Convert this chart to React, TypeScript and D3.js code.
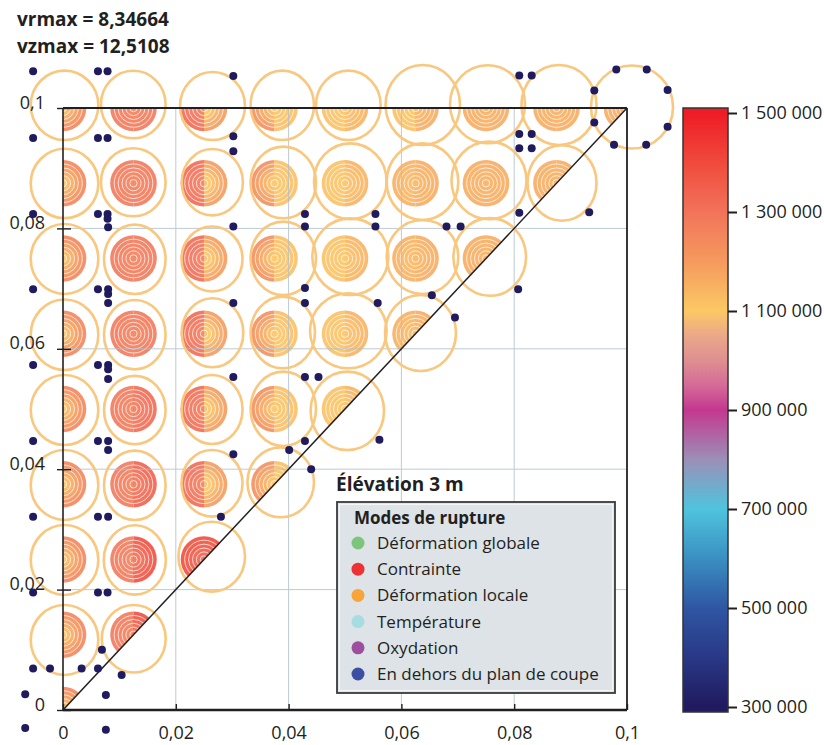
import React, { useEffect, useRef } from "react";
import * as d3 from "d3";

// grid nodes (same steps on both axes)
const nodeSteps = [0, 0.0125, 0.025, 0.0375, 0.05, 0.0625, 0.075, 0.0875, 0.1];

const axisTicks = [0, 0.02, 0.04, 0.06, 0.08, 0.1];
const axisTickLabels = ["0", "0,02", "0,04", "0,06", "0,08", "0,1"];
const gridTicks = [0.02, 0.04, 0.06, 0.08];

// colour bar
const colorStops = [300000, 400000, 500000, 600000, 700000, 800000, 900000, 950000, 1000000, 1050000, 1100000, 1200000, 1300000, 1400000, 1500000];
const colorHex = ["#201a5e", "#293886", "#2f56a3", "#3a8fc2", "#4fc4de", "#9b8fb7", "#c4388f", "#d56a98", "#de8f90", "#eba88a", "#fcc865", "#f59a5e", "#f2735a", "#f04a3c", "#ee1c25"];
const colorTicks = [300000, 500000, 700000, 900000, 1100000, 1300000, 1500000];

// disk values per column : left / right half, outer band / centre
const leftOuterByCol = [1250000, 1285000, 1320000, 1225000, 1115000, 1150000, 1160000, 1160000, 1160000];
const leftInnerByCol = [1110000, 1265000, 1270000, 1105000, 1105000, 1130000, 1150000, 1150000, 1160000];
const rightOuterByCol = [1250000, 1285000, 1195000, 1120000, 1145000, 1160000, 1160000, 1160000, 1160000];
const rightInnerByCol = [1110000, 1265000, 1080000, 1105000, 1115000, 1140000, 1150000, 1150000, 1160000];
// [col, row, side, outer, inner]
const diskOverrides: [number, number, "L" | "R", number, number][] = [
  [1, 4, "R", 1320000, 1280000],
  [1, 3, "R", 1345000, 1285000],
  [1, 2, "R", 1385000, 1300000],
  [1, 1, "R", 1390000, 1300000],
  [2, 2, "L", 1390000, 1330000],
  [2, 2, "R", 1390000, 1330000],
  [5, 8, "L", 1115000, 1105000],
];

// deformed outlines: cx, cy, rx, ry
const rings: [number, number, number, number][] = [
  [0.00027, 0.10045, 0.00599, 0.00576], [0.01246, 0.10058, 0.00573, 0.00561], [0.02651, 0.10033, 0.00576, 0.00565],
  [0.03888, 0.10045, 0.00562, 0.00576], [0.05059, 0.10045, 0.00573, 0.00576], [0.06379, 0.1005, 0.0066, 0.00664],
  [0.07527, 0.10063, 0.00665, 0.00648], [0.08794, 0.1005, 0.00665, 0.00664], [0.10089, 0.10017, 0.00727, 0.00689],
  [0.00027, 0.08746, 0.00599, 0.00576], [0.01246, 0.08766, 0.00573, 0.00565], [0.02647, 0.08767, 0.00543, 0.00551],
  [0.03906, 0.08763, 0.0058, 0.00595], [0.05094, 0.08782, 0.00644, 0.00631], [0.06374, 0.08776, 0.00635, 0.00636],
  [0.07553, 0.08796, 0.00665, 0.00645], [0.08848, 0.08754, 0.00612, 0.00628],
  [0.00027, 0.07492, 0.00599, 0.00581], [0.01273, 0.07487, 0.00546, 0.00576], [0.02642, 0.07492, 0.00541, 0.0054],
  [0.03906, 0.07503, 0.0058, 0.0061], [0.05094, 0.0753, 0.00674, 0.00636], [0.06374, 0.07525, 0.00635, 0.00615],
  [0.07566, 0.07525, 0.00644, 0.00645],
  [0.00027, 0.06234, 0.00599, 0.00586], [0.01273, 0.06234, 0.00546, 0.00576], [0.02651, 0.06267, 0.00546, 0.00573],
  [0.03897, 0.06271, 0.00571, 0.00595], [0.05059, 0.06299, 0.00679, 0.00623], [0.06339, 0.06262, 0.00629, 0.00631],
  [0.00027, 0.04983, 0.00599, 0.00581], [0.01273, 0.04983, 0.00546, 0.00568], [0.02642, 0.04992, 0.00541, 0.00573],
  [0.03906, 0.05003, 0.0058, 0.00618], [0.05041, 0.0497, 0.00651, 0.00651],
  [0.00027, 0.03738, 0.00599, 0.00581], [0.01273, 0.03733, 0.00546, 0.00576], [0.02642, 0.03766, 0.00541, 0.00553],
  [0.0386, 0.03782, 0.0059, 0.00581],
  [0.00027, 0.02492, 0.00599, 0.00581], [0.01273, 0.02492, 0.0055, 0.00576], [0.02637, 0.02547, 0.0059, 0.00581],
  [0.00027, 0.01163, 0.00599, 0.00581], [0.01254, 0.01183, 0.00567, 0.00561],
];

// points outside the cut plane
const outsidePoints: [number, number][] = [
  [-0.0053, 0.1061], [0.0062, 0.1061], [0.0079, 0.1061], [0.0302, 0.1053],
  [0.0809, 0.1054], [0.0831, 0.1054], [0.0981, 0.1064], [0.1035, 0.1064],
  [0.0942, 0.1029], [0.1072, 0.103],
  [-0.0053, 0.095], [0.0062, 0.095], [0.0079, 0.095], [0.0302, 0.0953],
  [0.0809, 0.0957], [0.0831, 0.0957], [0.0942, 0.0976], [0.1072, 0.0969],
  [0.0302, 0.0928], [0.0809, 0.0933], [0.0831, 0.0933], [0.0977, 0.0939], [0.1034, 0.0939],
  [-0.0053, 0.0824], [0.0062, 0.0824], [0.0079, 0.0824], [0.0079, 0.0816],
  [0.0429, 0.0824], [0.0554, 0.0824], [0.0809, 0.0826], [0.0933, 0.0827],
  [0.008, 0.0802], [0.0302, 0.0803], [0.0429, 0.0803], [0.0554, 0.0803], [0.068, 0.0803], [0.0705, 0.0803],
  [-0.0053, 0.0699], [0.0062, 0.0699], [0.008, 0.0699], [0.008, 0.0691], [0.008, 0.0676],
  [0.0302, 0.0676], [0.0429, 0.0701], [0.0429, 0.0676], [0.0558, 0.0676],
  [0.0807, 0.0699], [0.0654, 0.0689], [0.0695, 0.0652],
  [-0.0053, 0.0573], [0.0062, 0.0573], [0.008, 0.0573], [0.008, 0.0566], [0.008, 0.055],
  [0.0302, 0.0553], [0.0429, 0.0553], [0.0453, 0.0553],
  [-0.0053, 0.0447], [0.0062, 0.0447], [0.008, 0.0447], [0.008, 0.0432],
  [0.0302, 0.0425], [0.0401, 0.0432], [0.0429, 0.0447], [0.0561, 0.0449], [0.044, 0.04],
  [-0.0053, 0.0321], [0.0062, 0.0321], [0.008, 0.0321], [0.028, 0.0321],
  [-0.0053, 0.0195], [0.0062, 0.0195], [0.0079, 0.0195],
  [0.0069, 0.01], [-0.0053, 0.0069], [-0.0023, 0.0069], [0.0033, 0.0069], [0.0062, 0.0069], [0.0104, 0.0058],
  [-0.0067, 0.0026], [0.0076, 0.0025], [-0.0067, -0.003], [0.0076, -0.0033],
];

const legendLabels = ["Déformation globale", "Contrainte", "Déformation locale", "Température", "Oxydation", "En dehors du plan de coupe"];
const legendColors = ["#7cc57a", "#ee3134", "#f9a43b", "#a7dde0", "#9c4f9f", "#3b50a3"];

const FONT = "'Open Sans', sans-serif";
const INK = "#231f20";

const App = () => {
  const ref = useRef<SVGSVGElement>(null);

  useEffect(() => {
    const svg = d3.select(ref.current);
    svg.selectAll("*").remove();

    const x = d3.scaleLinear().domain([0, 0.1]).range([63, 627]);
    const y = d3.scaleLinear().domain([0, 0.1]).range([710, 108]);
    const cScale = d3.scaleLinear().domain([300000, 1500000]).range([707, 113]);
    const color = d3.scaleLinear<string>().domain(colorStops).range(colorHex).interpolate(d3.interpolateRgb).clamp(true);
    const fr = d3.formatLocale({ decimal: ",", thousands: " ", grouping: [3], currency: ["", " €"] });

    const defs = svg.append("defs");
    defs.append("clipPath").attr("id", "tri")
      .append("path")
      .attr("d", `M${x(0)},${y(0)}L${x(0)},${y(0.1)}L${x(0.1)},${y(0.1)}Z`);

    const grad = defs.append("linearGradient").attr("id", "cbar")
      .attr("gradientUnits", "userSpaceOnUse")
      .attr("x1", 0).attr("x2", 0)
      .attr("y1", cScale(1500000)).attr("y2", cScale(300000));
    colorStops.slice().reverse().forEach((v) => {
      grad.append("stop")
        .attr("offset", (1500000 - v) / 1200000)
        .attr("stop-color", color(v));
    });

    // disks (slightly see-through, like the original)
    const bandRadii = [3.7, 7.6, 11.5, 15.4, 19.3, 23.3];
    const gDisk = svg.append("g").attr("clip-path", "url(#tri)").attr("opacity", 0.9);
    nodeSteps.forEach((nx, i) => {
      nodeSteps.forEach((ny, j) => {
        if (j < i) return;
        const cx = x(nx), cy = y(ny);
        (["L", "R"] as const).forEach((side) => {
          let outer = side === "L" ? leftOuterByCol[i] : rightOuterByCol[i];
          let inner = side === "L" ? leftInnerByCol[i] : rightInnerByCol[i];
          const o = diskOverrides.find((d) => d[0] === i && d[1] === j && d[2] === side);
          if (o) { outer = o[3]; inner = o[4]; }
          for (let b = bandRadii.length - 1; b >= 0; b--) {
            const r = bandRadii[b];
            const v = inner + ((outer - inner) * b) / (bandRadii.length - 1);
            gDisk.append("path")
              .attr("d", `M${cx},${cy - r}A${r},${r} 0 0 ${side === "L" ? 0 : 1} ${cx},${cy + r}Z`)
              .attr("fill", color(v));
          }
        });
        bandRadii.slice(0, -1).forEach((r) => {
          gDisk.append("circle")
            .attr("cx", cx).attr("cy", cy).attr("r", r)
            .attr("fill", "none")
            .attr("stroke", "#fff")
            .attr("stroke-opacity", 0.85)
            .attr("stroke-width", 0.85);
        });
      });
    });

    // grid
    const gGrid = svg.append("g").attr("stroke", "#aebfcb").attr("stroke-width", 1).attr("opacity", 0.8);
    gridTicks.forEach((t) => {
      gGrid.append("line").attr("x1", x(t)).attr("x2", x(t)).attr("y1", y(0)).attr("y2", y(0.1));
      gGrid.append("line").attr("x1", x(0)).attr("x2", x(0.1)).attr("y1", y(t)).attr("y2", y(t));
    });

    // deformed outlines
    svg.append("g")
      .selectAll("ellipse")
      .data(rings)
      .enter().append("ellipse")
      .attr("cx", (d) => x(d[0]))
      .attr("cy", (d) => y(d[1]))
      .attr("rx", (d) => x(d[2]) - x(0))
      .attr("ry", (d) => y(0) - y(d[3]))
      .attr("fill", "none")
      .attr("stroke", "#f9c77e")
      .attr("stroke-width", 2.6);

    // frame + diagonal
    const frame = svg.append("g").attr("stroke", INK).attr("fill", "none");
    frame.append("line").attr("x1", x(0)).attr("x2", x(0.1)).attr("y1", y(0.1)).attr("y2", y(0.1)).attr("stroke-width", 1.8);
    frame.append("line").attr("x1", x(0.1)).attr("x2", x(0.1)).attr("y1", y(0.1)).attr("y2", y(0)).attr("stroke-width", 1.8);
    frame.append("line").attr("x1", x(0)).attr("x2", x(0)).attr("y1", y(0.1)).attr("y2", y(0)).attr("stroke-width", 1.6);
    frame.append("line").attr("x1", x(0)).attr("x2", x(0.1)).attr("y1", y(0)).attr("y2", y(0)).attr("stroke-width", 2.6);
    frame.append("line").attr("x1", x(0)).attr("x2", x(0.1)).attr("y1", y(0)).attr("y2", y(0.1)).attr("stroke-width", 1.5);

    // axes
    const yAxis = svg.append("g")
      .attr("transform", `translate(${x(0)},0)`)
      .call(d3.axisLeft(y).tickValues(axisTicks).tickFormat((_, k) => axisTickLabels[k]).tickSize(6));
    yAxis.select(".domain").remove();
    yAxis.selectAll(".tick line").attr("x1", 8).attr("x2", -6).attr("stroke", INK).attr("stroke-width", 1.4);
    yAxis.selectAll(".tick text")
      .attr("x", -18).attr("dy", "0")
      .attr("fill", INK).attr("font-family", FONT).attr("font-size", 18);

    const xAxis = svg.append("g")
      .attr("transform", `translate(0,${y(0)})`)
      .call(d3.axisBottom(x).tickValues(axisTicks).tickFormat((_, k) => axisTickLabels[k]).tickSize(6));
    xAxis.select(".domain").remove();
    xAxis.selectAll(".tick line").attr("y1", 0).attr("y2", -6).attr("stroke", INK).attr("stroke-width", 1.4);
    xAxis.selectAll(".tick text")
      .attr("y", 29).attr("dy", "0")
      .attr("fill", INK).attr("font-family", FONT).attr("font-size", 18);

    // outside points
    svg.append("g")
      .selectAll("circle")
      .data(outsidePoints)
      .enter().append("circle")
      .attr("cx", (d) => x(d[0]))
      .attr("cy", (d) => y(d[1]))
      .attr("r", 4)
      .attr("fill", "#1f1b5e");

    // header texts
    svg.append("text").attr("x", 17).attr("y", 26)
      .attr("font-family", FONT).attr("font-weight", 700).attr("font-size", 19).attr("fill", INK)
      .text("vrmax = 8,34664");
    svg.append("text").attr("x", 17).attr("y", 53)
      .attr("font-family", FONT).attr("font-weight", 700).attr("font-size", 19).attr("fill", INK)
      .text("vzmax = 12,5108");

    svg.append("text").attr("x", 336).attr("y", 491)
      .attr("font-family", FONT).attr("font-weight", 700).attr("font-size", 19).attr("fill", INK)
      .text("Élévation 3 m");

    // legend
    const lg = svg.append("g").attr("transform", "translate(337,502)");
    lg.append("rect").attr("x", 0).attr("y", 0).attr("width", 278).attr("height", 191)
      .attr("fill", "#dde3e7").attr("stroke", "#3a3a3a").attr("stroke-width", 1.8);
    lg.append("rect").attr("x", 2.5).attr("y", 2.5).attr("width", 273).attr("height", 186)
      .attr("fill", "none").attr("stroke", "#f3f5f6").attr("stroke-width", 1.2);
    lg.append("text").attr("x", 17).attr("y", 22)
      .attr("font-family", FONT).attr("font-weight", 700).attr("font-size", 17).attr("fill", INK)
      .text("Modes de rupture");
    legendLabels.forEach((lab, k) => {
      const cy = 41 + k * 26.2;
      lg.append("circle").attr("cx", 21).attr("cy", cy).attr("r", 6.5).attr("fill", legendColors[k]);
      lg.append("text").attr("x", 40).attr("y", cy + 6)
        .attr("font-family", FONT).attr("font-size", 17).attr("fill", INK)
        .text(lab);
    });

    // colour bar
    svg.append("rect").attr("x", 683).attr("y", 108).attr("width", 45).attr("height", 604)
      .attr("fill", "url(#cbar)").attr("stroke", "#333").attr("stroke-width", 1.5);
    const cAxis = svg.append("g")
      .attr("transform", "translate(728,0)")
      .call(d3.axisRight(cScale).tickValues(colorTicks).tickFormat((d) => fr.format(",d")(d as number)).tickSize(9));
    cAxis.select(".domain").remove();
    cAxis.selectAll(".tick line").attr("stroke", INK).attr("stroke-width", 2);
    cAxis.selectAll(".tick text")
      .attr("x", 13)
      .attr("fill", INK).attr("font-family", FONT).attr("font-size", 18);
  }, []);

  return (
    <svg
      ref={ref}
      width={824}
      height={745}
      style={{ position: "absolute", left: 0, top: 0, background: "#fff" }}
    />
  );
};

export default App;
